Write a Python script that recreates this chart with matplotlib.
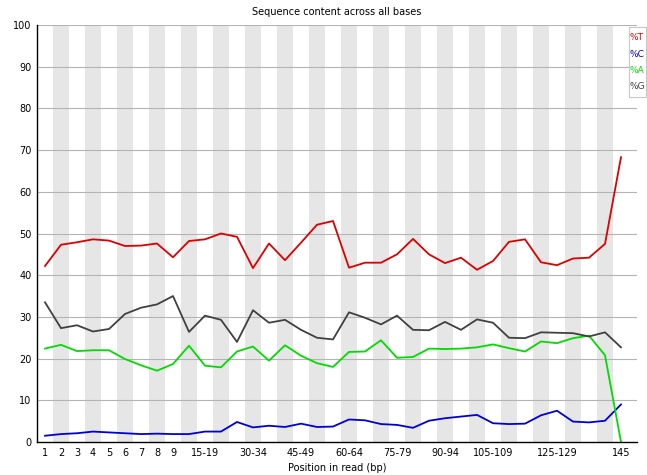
import matplotlib
matplotlib.use("Agg")
import matplotlib.pyplot as plt
from matplotlib.patches import Rectangle

# position groups along the read
positions = [str(i) for i in range(1, 10)] + \
    ["%d-%d" % (s, s + 4) for s in range(10, 145, 5)] + ["145"]
shown_labels = ["1", "2", "3", "4", "5", "6", "7", "8", "9", "15-19", "30-34",
                "45-49", "60-64", "75-79", "90-94", "105-109", "125-129", "145"]

pct_T = [42.2, 47.3, 47.9, 48.6, 48.3, 47.0, 47.1, 47.6, 44.3, 48.2, 48.6, 50.0,
         49.2, 41.7, 47.6, 43.6, 47.8, 52.1, 53.0, 41.8, 43.0, 43.0, 45.0, 48.7,
         45.0, 42.9, 44.2, 41.3, 43.4, 48.0, 48.6, 43.1, 42.4, 44.0, 44.2, 47.5, 68.3]
pct_C = [1.5, 1.9, 2.1, 2.5, 2.3, 2.1, 1.9, 2.0, 1.9, 1.9, 2.5, 2.5,
         4.8, 3.5, 3.9, 3.6, 4.4, 3.6, 3.7, 5.4, 5.2, 4.3, 4.1, 3.4,
         5.1, 5.7, 6.1, 6.5, 4.5, 4.3, 4.4, 6.4, 7.5, 4.9, 4.7, 5.1, 9.0]
pct_A = [22.4, 23.3, 21.8, 22.0, 22.0, 19.9, 18.4, 17.1, 18.7, 23.1, 18.3, 17.9,
         21.7, 22.9, 19.5, 23.2, 20.7, 18.9, 18.0, 21.6, 21.7, 24.4, 20.2, 20.4,
         22.4, 22.3, 22.4, 22.7, 23.4, 22.5, 21.7, 24.1, 23.7, 24.9, 25.5, 20.8, 0.0]
pct_G = [33.5, 27.3, 28.0, 26.5, 27.1, 30.7, 32.2, 33.0, 35.0, 26.4, 30.3, 29.3,
         24.0, 31.6, 28.6, 29.3, 26.9, 25.0, 24.6, 31.1, 29.8, 28.2, 30.3, 26.9,
         26.8, 28.8, 26.9, 29.4, 28.6, 25.0, 24.9, 26.3, 26.2, 26.1, 25.3, 26.3, 22.7]

series = [("%T", pct_T, "#dc0000"), ("%C", pct_C, "#0000dc"),
          ("%A", pct_A, "#00dc00"), ("%G", pct_G, "#404040")]

W, H = 647, 475
fig = plt.figure(figsize=(W / 100, H / 100), dpi=100)
fig.patch.set_facecolor("white")
# plot area in pixels: x 37..637, y 25..442
ax = fig.add_axes([37 / W, (H - 442) / H, 600 / W, 417 / H])

n = len(positions)
ax.set_xlim(0, 600 / 16)
ax.set_ylim(0, 100)

# alternating stripes
for i in range(n):
    if i % 2 == 1:
        ax.axvspan(i, i + 1, color="#e6e6e6", lw=0, zorder=0)

for y in range(10, 101, 10):
    ax.axhline(y, color="#b4b4b4", lw=0.8, zorder=1)

xs = [i + 0.5 for i in range(n)]
for name, vals, col in series:
    ax.plot(xs, vals, color=col, lw=1.3, zorder=3)

for s in ax.spines.values():
    s.set_visible(False)
ax.plot([0, 0], [0, 100], color="black", lw=1, clip_on=False, zorder=4)
ax.plot([0, 600 / 16], [0, 0], color="black", lw=1, clip_on=False, zorder=4)

ax.set_yticks(range(0, 101, 10))
ax.set_yticklabels([str(v) for v in range(0, 101, 10)], fontsize=7)
tick_idx = [positions.index(l) for l in shown_labels]
ax.set_xticks([xs[i] for i in tick_idx])
ax.set_xticklabels(shown_labels, fontsize=7)
ax.tick_params(length=0, pad=4)
ax.set_xlabel("Position in read (bp)", fontsize=7, labelpad=4)
ax.set_title("Sequence content across all bases", fontsize=7, pad=7)

# legend box in the top right corner
fig.patches.append(Rectangle((629 / W, 1 - 97 / H), 17 / W, 70 / H,
                             transform=fig.transFigure, facecolor="white",
                             edgecolor="#c8c8c8", lw=0.8, zorder=5))
for k, (name, vals, col) in enumerate(series):
    fig.text(630 / W, 1 - (38 + k * 16.3) / H, name, color=col, fontsize=6.5,
             va="center", ha="left", zorder=6)

fig.savefig("out.png", dpi=100, facecolor="white")
